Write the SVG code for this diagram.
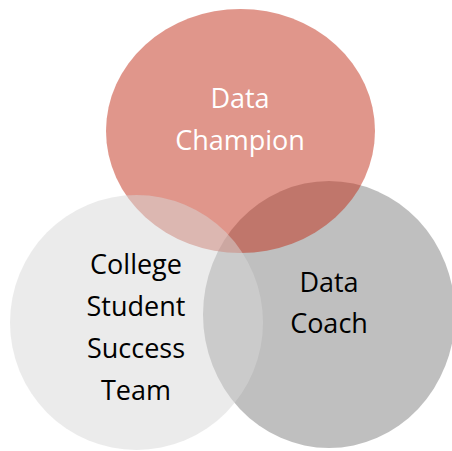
<svg xmlns="http://www.w3.org/2000/svg" width="452" height="451" viewBox="0 0 452 451">
<style>
.c{fill-opacity:0.5;stroke:none}
.t{font-family:"Open Sans","Liberation Sans",sans-serif;font-size:27px;text-anchor:middle}
</style>
<rect width="452" height="451" fill="#ffffff"/>
<g id="data-coach">
<ellipse class="c" cx="329" cy="314.5" rx="126" ry="133.5" fill="#7f7f7f"/>
</g>
<g id="data-champion">
<ellipse class="c" cx="240.5" cy="131" rx="134.5" ry="122" fill="#c12d17"/>
</g>
<g id="college-team">
<ellipse class="c" cx="136.5" cy="322.5" rx="126.5" ry="127.5" fill="#d7d7d7"/>
</g>
<g id="connectors"></g>
<g id="labels">
<text class="t" x="240" y="108" fill="#ffffff">Data</text>
<text class="t" x="240" y="150" fill="#ffffff">Champion</text>
<text class="t" x="136" y="274" fill="#000000">College</text>
<text class="t" x="136" y="316" fill="#000000">Student</text>
<text class="t" x="136" y="358" fill="#000000">Success</text>
<text class="t" x="136" y="400" fill="#000000">Team</text>
<text class="t" x="329" y="292" fill="#000000">Data</text>
<text class="t" x="329" y="333" fill="#000000">Coach</text>
</g>
</svg>
